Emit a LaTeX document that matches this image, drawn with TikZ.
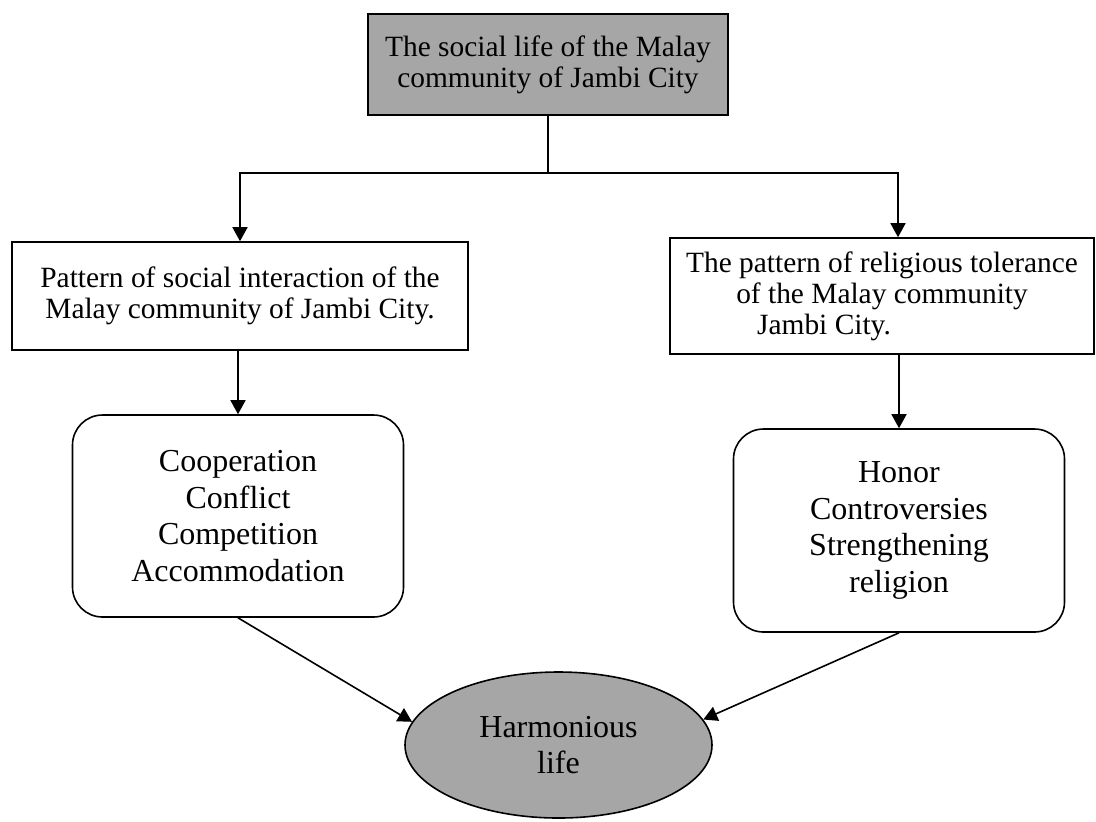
\documentclass[tikz,border=0pt]{standalone}
\usepackage{fontspec}
\setmainfont{Liberation Serif}
\usepackage{tikz}
\usetikzlibrary{arrows.meta,shapes.geometric}
\definecolor{boxgray}{RGB}{166,166,166}

\begin{document}
\begin{tikzpicture}[x=0.5pt,y=-0.5pt,line width=0.8pt,
    box/.style={draw,align=center,inner sep=0pt,font=\fontsize{14.7}{15.5}\selectfont},
    softbox/.style={draw,rounded corners=15pt,align=center,inner sep=0pt,
      minimum width=165.5pt,font=\fontsize{16}{18.3}\selectfont},
    arr/.style={-{Triangle[length=7pt,width=7.5pt]}}]
    \useasboundingbox (0,0) rectangle (1096,821);
    \node[box,fill=boxgray,minimum width=180pt,minimum height=50.5pt] (life) at (548,64.5)
      {The social life of the Malay\\community of Jambi City};
    \coordinate (split) at (548,173);
    \node[box,minimum width=228pt,minimum height=54pt] (pattern) at (240,296)
      {Pattern of social interaction of the\\Malay community of Jambi City.};
    \node[box,minimum width=212pt,minimum height=58pt] (toler) at (882,296)
      {The pattern of religious tolerance\\of the Malay community\\Jambi City.\rule{58pt}{0pt}};
    \node[softbox,minimum height=101pt] (coop) at (238,516)
      {Cooperation\\Conflict\\Competition\\Accommodation};
    \node[softbox,minimum height=101.5pt] (honor) at (899,530.5)
      {Honor\\Controversies\\Strengthening\\religion};
    \node[ellipse,draw,fill=boxgray,minimum width=153.5pt,minimum height=73pt,inner sep=0pt,
      align=center,font=\fontsize{16}{18.3}\selectfont] (harm) at (558.5,745)
      {Harmonious\\life};
    \draw (life) -- (split);
    \draw[arr] (split) -| (pattern.north);
    \draw[arr] (split) -| ([xshift=8pt]toler.north);
    \draw[arr] (pattern.south -| coop.north) -- (coop.north);
    \draw[arr] (toler.south -| honor.north) -- (honor.north);
    \draw[arr] (coop.south) -- (harm.171);
    \draw[arr] (honor.south) -- (harm.10);
  \end{tikzpicture}
\end{document}
